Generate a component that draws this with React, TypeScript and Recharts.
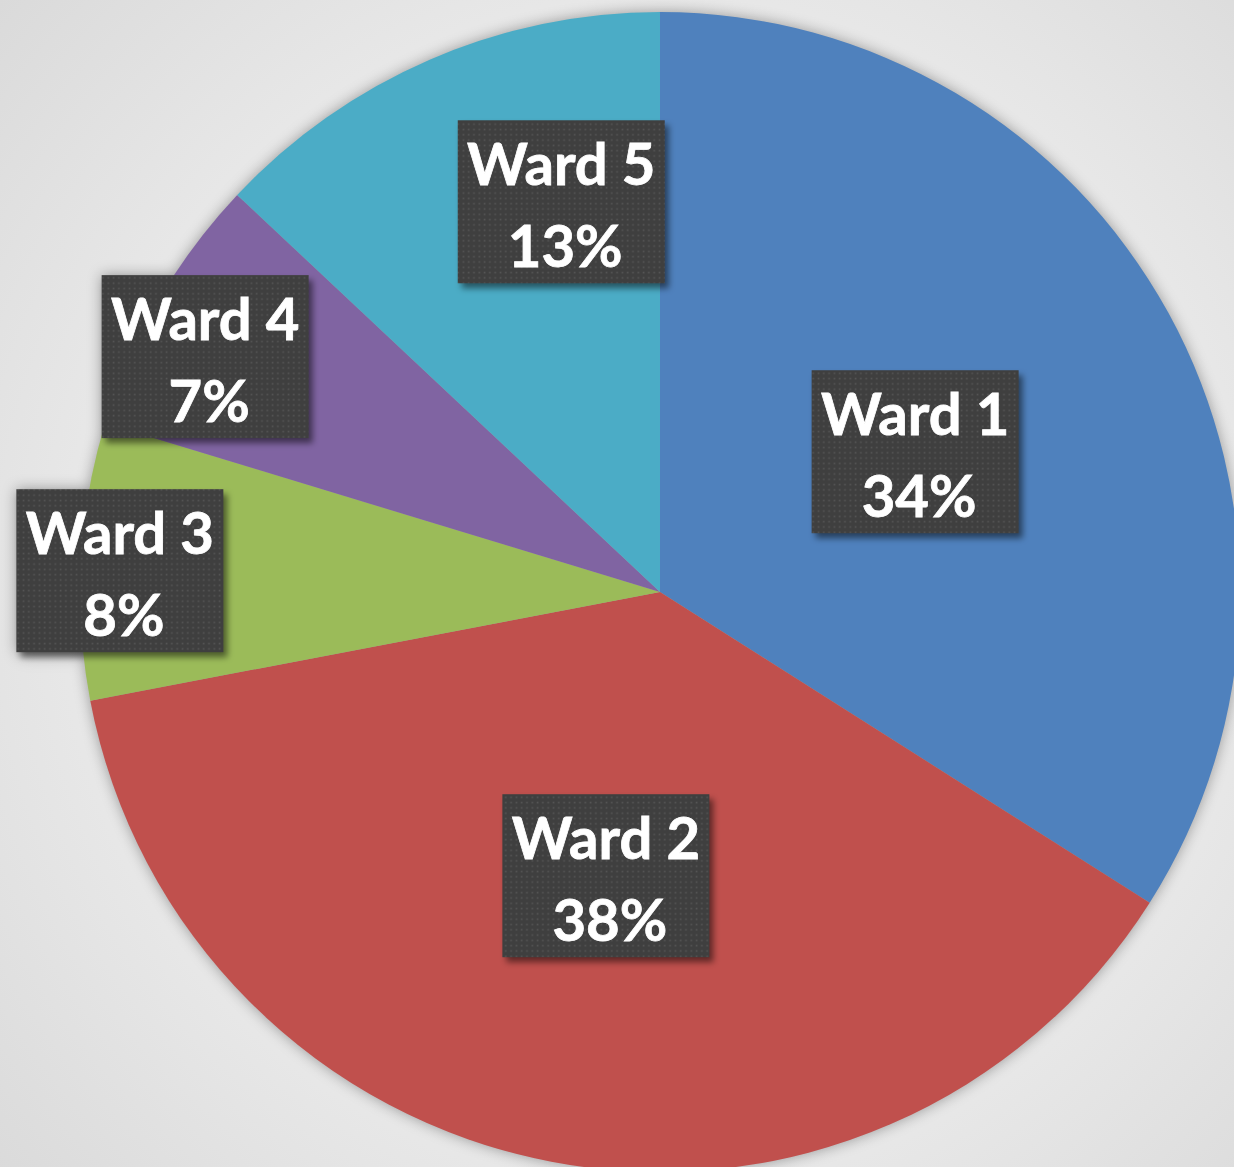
import { PieChart, Pie, Cell } from "recharts";

const wards = ["Ward 1", "Ward 2", "Ward 3", "Ward 4", "Ward 5"];
const shares = [34, 38, 7.7, 7.3, 13];
const colors = ["#4f81bd", "#c0504d", "#9bbb59", "#8064a2", "#4bacc6"];

// label placement: [radius fraction, angle shift in degrees]
const labelSpots: [number, number][] = [
  [0.502, 0],
  [0.498, 0],
  [0.932, 0.8],
  [0.883, 2.7],
  [0.694, -9.2],
];

const data = wards.map((name, i) => ({ name, value: shares[i] }));

const RAD = Math.PI / 180;
const BOX_W = 207;
const BOX_H = 163;

const renderLabel = (props: any) => {
  const { cx, cy, midAngle, outerRadius, index, name, percent } = props;
  const [f, shift] = labelSpots[index];
  const a = (midAngle + shift) * RAD;
  const x = cx + outerRadius * f * Math.cos(a);
  const y = cy - outerRadius * f * Math.sin(a);
  return (
    <g>
      {index === 0 && (
        <defs>
          <pattern id="dots" width="5.3" height="5.3" patternUnits="userSpaceOnUse">
            <rect width="5.3" height="5.3" fill="#3f3f3f" />
            <rect x="1.5" y="1.5" width="1.6" height="1.6" fill="#555555" />
          </pattern>
          <filter id="boxShadow" x="-20%" y="-20%" width="140%" height="140%">
            <feGaussianBlur stdDeviation="3" />
          </filter>
        </defs>
      )}
      <rect
        x={x - BOX_W / 2 + 4}
        y={y - BOX_H / 2 + 5}
        width={BOX_W}
        height={BOX_H}
        fill="rgba(0,0,0,0.5)"
        filter="url(#boxShadow)"
      />
      <rect x={x - BOX_W / 2} y={y - BOX_H / 2} width={BOX_W} height={BOX_H} fill="url(#dots)" />
      <text
        x={x}
        y={y - 17}
        textAnchor="middle"
        fill="#ffffff"
        stroke="#ffffff"
        strokeWidth={0.8}
        fontFamily="Lato, 'Open Sans', sans-serif"
        fontWeight="bold"
        fontSize={58}
      >
        {name}
      </text>
      <text
        x={x + 4}
        y={y + 65}
        textAnchor="middle"
        fill="#ffffff"
        stroke="#ffffff"
        strokeWidth={0.8}
        fontFamily="Lato, 'Open Sans', sans-serif"
        fontWeight="bold"
        fontSize={58}
      >
        {`${Math.round(percent * 100)}%`}
      </text>
    </g>
  );
};

export default function App() {
  return (
    <div
      style={{
        position: "fixed",
        left: 0,
        top: 0,
        width: 1234,
        height: 1167,
        overflow: "hidden",
        background: "radial-gradient(circle at 660px 592px, #f6f6f6 0%, #ececec 55%, #dadada 100%)",
      }}
    >
      <div style={{ filter: "drop-shadow(0 0 7px rgba(0,0,0,0.35))" }}>
        <PieChart width={1234} height={1167} margin={{ top: 0, right: 0, bottom: 0, left: 0 }}>
          <Pie
            data={data}
            dataKey="value"
            nameKey="name"
            cx={660}
            cy={592}
            outerRadius={580}
            startAngle={90}
            endAngle={-270}
            stroke="none"
            labelLine={false}
            label={renderLabel}
            isAnimationActive={false}
          >
            {data.map((d, i) => (
              <Cell key={d.name} fill={colors[i]} />
            ))}
          </Pie>
        </PieChart>
      </div>
    </div>
  );
}
